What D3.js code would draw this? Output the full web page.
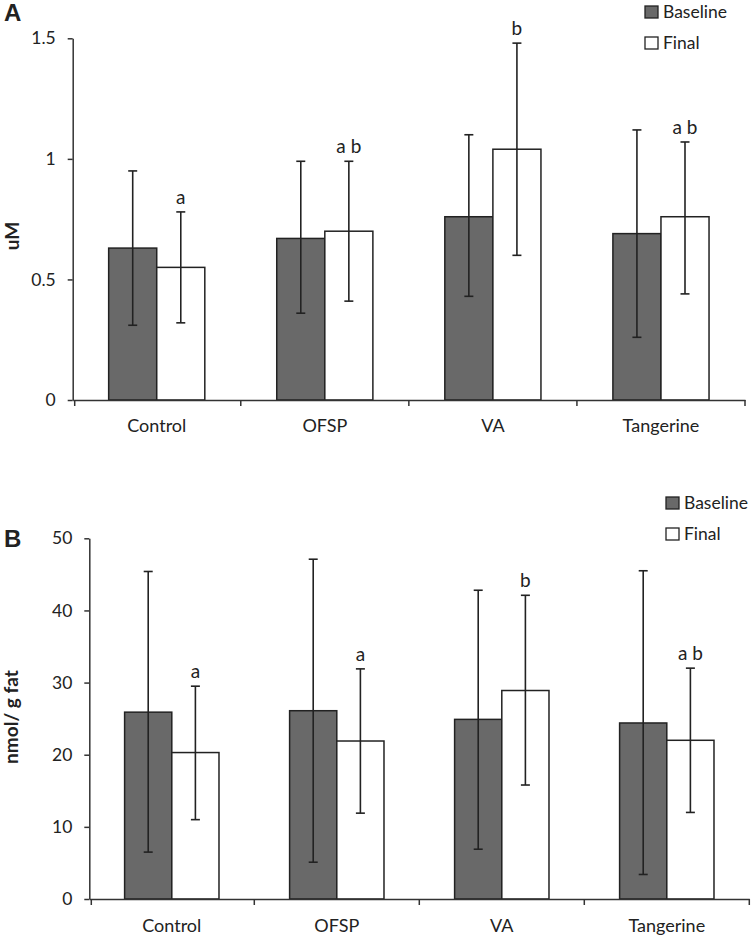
<!DOCTYPE html>
<html>
<head>
<meta charset="utf-8">
<script src="https://cdn.jsdelivr.net/npm/d3@7"></script>
<style>
  html, body { margin: 0; padding: 0; background: #fff; }
  svg { display: block; }
  text { font-family: Lato, "Open Sans", sans-serif; fill: #222; }
</style>
</head>
<body>
<svg id="chart" width="751" height="935"></svg>
<script>
// ---- data ----
const categories = ["Control", "OFSP", "VA", "Tangerine"];
const seriesNames = ["Baseline", "Final"];

const A_baseline     = [0.63, 0.67, 0.76, 0.69];
const A_final        = [0.55, 0.70, 1.04, 0.76];
const A_baselineLow  = [0.31, 0.36, 0.43, 0.26];
const A_baselineHigh = [0.95, 0.99, 1.10, 1.12];
const A_finalLow     = [0.32, 0.41, 0.60, 0.44];
const A_finalHigh    = [0.78, 0.99, 1.48, 1.07];
const A_letters      = ["a", "a b", "b", "a b"];
const A_ticks        = [0, 0.5, 1, 1.5];

const B_baseline     = [25.9, 26.1, 24.9, 24.4];
const B_final        = [20.3, 21.9, 28.9, 22.0];
const B_baselineLow  = [6.5, 5.1, 6.9, 3.4];
const B_baselineHigh = [45.4, 47.1, 42.8, 45.5];
const B_finalLow     = [11.0, 11.9, 15.8, 12.0];
const B_finalHigh    = [29.5, 31.9, 42.1, 32.0];
const B_letters      = ["a", "a", "b", "a b"];
const B_ticks        = [0, 10, 20, 30, 40, 50];

const svg = d3.select("#chart");

function drawPanel(cfg) {
  const g = svg.append("g");
  const x = d3.scaleBand().domain(categories).range([cfg.x0, cfg.x1]).paddingInner(0).paddingOuter(0);
  const y = d3.scaleLinear().domain([0, cfg.ticks[cfg.ticks.length - 1]]).range([cfg.y0, cfg.y1]);
  const bw = x.bandwidth() * 0.286;

  const rows = categories.map((c, i) => ({
    c,
    vals: [
      { s: 0, v: cfg.base[i], lo: cfg.baseLo[i], hi: cfg.baseHi[i] },
      { s: 1, v: cfg.fin[i], lo: cfg.finLo[i], hi: cfg.finHi[i] }
    ],
    letter: cfg.letters[i]
  }));
  const fills = ["#696969", "#ffffff"];
  const bx = (c, s) => x(c) + x.bandwidth() / 2 - bw + s * bw;

  // bars
  rows.forEach(r => {
    r.vals.forEach(d => {
      g.append("rect")
        .attr("x", bx(r.c, d.s)).attr("y", y(d.v))
        .attr("width", bw).attr("height", y(0) - y(d.v))
        .attr("fill", fills[d.s]).attr("stroke", "#222").attr("stroke-width", 1.5);
    });
  });
  // error bars
  rows.forEach(r => {
    r.vals.forEach(d => {
      const cx = bx(r.c, d.s) + bw / 2;
      g.append("line").attr("x1", cx).attr("x2", cx).attr("y1", y(d.lo)).attr("y2", y(d.hi))
        .attr("stroke", "#222").attr("stroke-width", 1.6);
      [d.lo, d.hi].forEach(v => {
        g.append("line").attr("x1", cx - 4.5).attr("x2", cx + 4.5).attr("y1", y(v)).attr("y2", y(v))
          .attr("stroke", "#222").attr("stroke-width", 1.6);
      });
    });
    // significance letters above final error bar
    const fx = bx(r.c, 1) + bw / 2;
    g.append("text").attr("x", fx).attr("y", y(r.vals[1].hi) - 8)
      .attr("text-anchor", "middle").style("font-size", "19px").text(r.letter);
  });

  // y axis
  const ya = d3.axisLeft(y).tickValues(cfg.ticks).tickSize(5).tickSizeOuter(0).tickPadding(12)
    .tickFormat(d => String(d));
  const yg = g.append("g").attr("transform", `translate(${cfg.x0},0)`).call(ya);
  yg.select(".domain").attr("stroke", "#333").attr("stroke-width", 1.5);
  yg.selectAll(".tick line").attr("stroke", "#333").attr("stroke-width", 1.5);
  yg.selectAll(".tick text").style("font-size", "17.5px").style("font-family", "Lato, sans-serif").attr("fill", "#222");

  // x axis
  const xa = d3.axisBottom(x).tickSize(0).tickSizeOuter(0).tickPadding(cfg.xPad);
  const xg = g.append("g").attr("transform", `translate(0,${cfg.y0})`).call(xa);
  xg.select(".domain").attr("stroke", "#333").attr("stroke-width", 1.5);
  xg.selectAll(".tick text").style("font-size", "18px").style("font-family", "Lato, sans-serif").attr("fill", "#222");
  const edges = categories.map(c => x(c)).concat([cfg.x1]);
  edges.forEach((e, i) => {
    const ex = i === 0 ? e + 2 : e;
    g.append("line").attr("x1", ex).attr("x2", ex).attr("y1", cfg.y0).attr("y2", cfg.y0 + 6)
      .attr("stroke", "#333").attr("stroke-width", 1.5);
  });

  // y title
  g.append("text").attr("transform", `translate(${cfg.titleX},${cfg.titleY}) rotate(-90)`)
    .attr("text-anchor", "middle").attr("dy", "0.35em")
    .style("font-size", "19px").style("font-weight", "bold").text(cfg.title);

  // panel letter
  g.append("text").attr("x", cfg.letterX).attr("y", cfg.letterY)
    .style("font-family", "Liberation Sans, Arial, sans-serif").style("font-size", "24px")
    .style("font-weight", "bold").attr("fill", "#111").text(cfg.panel);

  // legend
  seriesNames.forEach((s, i) => {
    const ly = cfg.legY + i * 31;
    g.append("rect").attr("x", cfg.legX).attr("y", ly - 6).attr("width", 13).attr("height", 12)
      .attr("fill", fills[i]).attr("stroke", "#222").attr("stroke-width", 1.3);
    g.append("text").attr("x", cfg.legX + 18).attr("y", ly).attr("dy", "0.36em")
      .style("font-size", "17.5px").text(s);
  });
}

drawPanel({
  x0: 72.7, x1: 745, y0: 400, y1: 38.3,
  ticks: A_ticks, base: A_baseline, fin: A_final,
  baseLo: A_baselineLow, baseHi: A_baselineHigh, finLo: A_finalLow, finHi: A_finalHigh,
  letters: A_letters, xPad: 19,
  title: "uM", titleX: 12, titleY: 236,
  panel: "A", letterX: 4, letterY: 21,
  legX: 645, legY: 12
});

drawPanel({
  x0: 89.3, x1: 749.3, y0: 899, y1: 538.3,
  ticks: B_ticks, base: B_baseline, fin: B_final,
  baseLo: B_baselineLow, baseHi: B_baselineHigh, finLo: B_finalLow, finHi: B_finalHigh,
  letters: B_letters, xPad: 20,
  title: "nmol/ g fat", titleX: 11, titleY: 717,
  panel: "B", letterX: 4, letterY: 547,
  legX: 666, legY: 503
});
</script>
</body>
</html>
